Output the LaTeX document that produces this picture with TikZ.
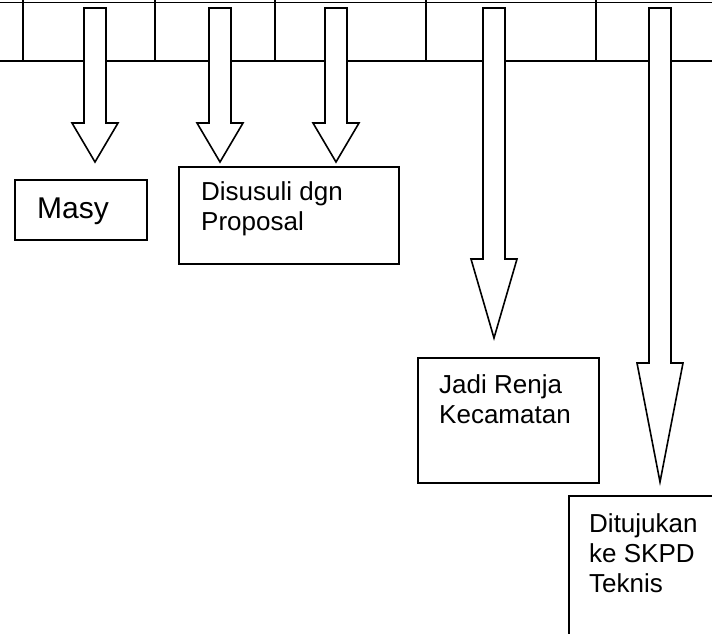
\documentclass[tikz,border=0pt]{standalone}
\usepackage{fontspec}
\setmainfont{Liberation Sans}
\newcommand{\blkarrow}[4]{% center x, top y, shoulder y, tip y
  \draw[blk] ({#1-11},#2) -- ({#1+11},#2) -- ({#1+11},#3) -- ({#1+23},#3) -- (#1,#4) -- ({#1-23},#3) -- ({#1-11},#3) -- cycle;}
\begin{document}
\begin{tikzpicture}[x=1pt,y=-1pt,
  tline/.style={line width=1.3pt},
  blk/.style={draw, line width=1.6pt, fill=white, line join=miter},
  box/.style={draw, line width=1.5pt, fill=white, inner sep=0pt, anchor=north west},
  lbl/.style={anchor=base west, inner sep=0pt, font=\fontsize{26}{30}\selectfont},
  big/.style={anchor=base west, inner sep=0pt, font=\fontsize{30}{34}\selectfont},
]
\useasboundingbox (0,0) rectangle (712,634);
\clip (0,0) rectangle (712,634);
% table strip
\draw[tline] (0,2.7) -- (712,2.7);
\draw[tline] (0,61) -- (712,61);
\foreach \x in {23,155,275,426,596} \draw[tline] (\x,0) -- (\x,61);
% block arrows
\blkarrow{95}{8}{123}{162}
\blkarrow{220}{8}{123}{162}
\blkarrow{336}{8}{123}{162}
\blkarrow{494}{8}{259}{338}
\blkarrow{660}{8}{363}{482}
% boxes
\node[box, minimum width=132pt, minimum height=60pt] (masybox) at (14,179) {};
\node[box, minimum width=220pt, minimum height=97pt] (propbox) at (178,166) {};
\node[box, minimum width=181pt, minimum height=125pt] (renjabox) at (417,357) {};
\node[box, minimum width=200pt, minimum height=200pt] (skpdbox) at (568,495) {};
% texts
\node[big] (masy) at (37,218) {Masy};
\node[lbl] (prop1) at (201,200) {Disusuli dgn};
\node[lbl] (prop2) at (201,230) {Proposal};
\node[lbl] (renja1) at (439,393) {Jadi Renja};
\node[lbl] (renja2) at (439,423) {Kecamatan};
\node[lbl] (skpd1) at (589,532) {Ditujukan};
\node[lbl] (skpd2) at (589,562) {ke SKPD};
\node[lbl] (skpd3) at (589,592) {Teknis};
\end{tikzpicture}
\end{document}
